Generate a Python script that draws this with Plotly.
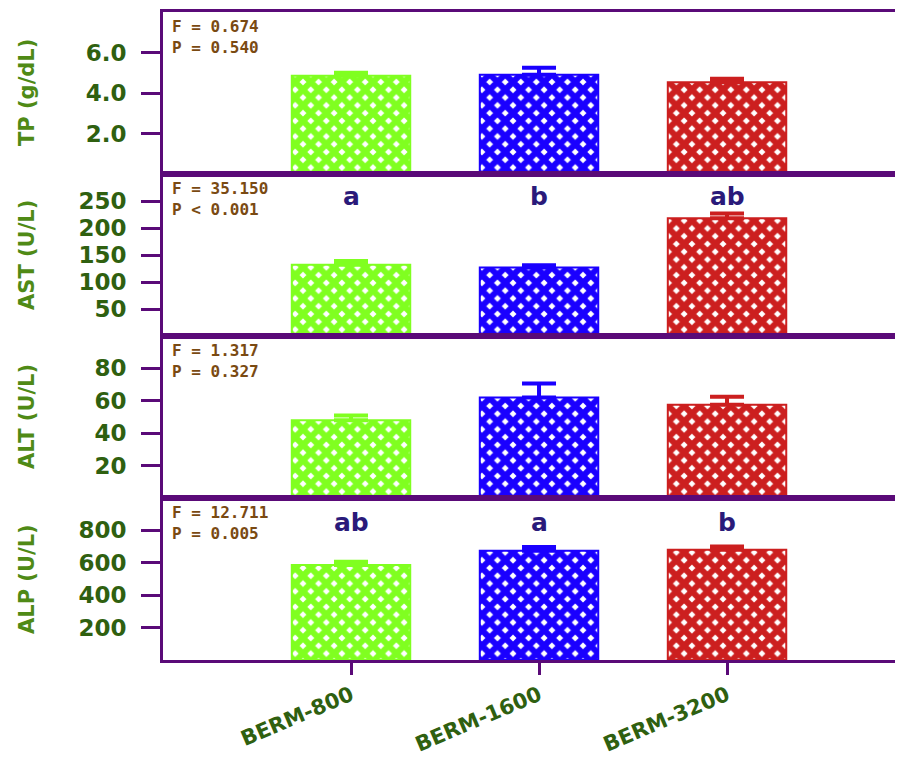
import plotly.graph_objects as go
from plotly.subplots import make_subplots

groups = ["BERM-800", "BERM-1600", "BERM-3200"]
bar_colors = ["#80ff20", "#1a00ff", "#cc1f1f"]

tp_mean = [4.85, 4.90, 4.53]
tp_err = [0.15, 0.35, 0.17]
ast_mean = [132, 127, 218]
ast_err = [7, 4, 9]
alt_mean = [48, 62, 57.5]
alt_err = [3, 8.7, 5]
alp_mean = [587, 675, 681]
alp_err = [19, 22, 19]

panel_titles = ["TP (g/dL)", "AST (U/L)", "ALT (U/L)", "ALP (U/L)"]
stats_text = ["F = 0.674<br>P = 0.540", "F = 35.150<br>P < 0.001",
              "F = 1.317<br>P = 0.327", "F = 12.711<br>P = 0.005"]
ast_letters = ["a", "b", "ab"]
alp_letters = ["ab", "a", "b"]

y_ranges = [[0, 8], [0, 300], [0, 100], [0, 1000]]
y_ticks = [[2, 4, 6], [50, 100, 150, 200, 250], [20, 40, 60, 80], [200, 400, 600, 800]]
y_ticktext = [["2.0", "4.0", "6.0"], ["50", "100", "150", "200", "250"],
              ["20", "40", "60", "80"], ["200", "400", "600", "800"]]

means = [tp_mean, ast_mean, alt_mean, alp_mean]
errs = [tp_err, ast_err, alt_err, alp_err]

fig = make_subplots(rows=4, cols=1, shared_xaxes=True, vertical_spacing=0)

purple = "#5a0a78"
tick_green = "#2f6010"
title_green = "#4f8a16"

for r in range(4):
    for i, g in enumerate(groups):
        fig.add_trace(go.Bar(
            x=[g], y=[means[r][i]],
            width=0.63,
            marker=dict(color=bar_colors[i],
                        line=dict(color=bar_colors[i], width=2),
                        pattern=dict(shape="x", fgcolor=bar_colors[i], bgcolor="white",
                                     solidity=0.8, size=11, fillmode="replace")),
            error_y=dict(type="data", array=[errs[r][i]], arrayminus=[0],
                         symmetric=False, color=bar_colors[i], thickness=4, width=17),
            showlegend=False,
        ), row=r + 1, col=1)

fig.update_layout(barmode="overlay")

for r in range(4):
    yname = "yaxis" if r == 0 else f"yaxis{r + 1}"
    xname = "xaxis" if r == 0 else f"xaxis{r + 1}"
    fig.layout[yname].update(
        range=y_ranges[r], tickvals=y_ticks[r], ticktext=y_ticktext[r],
        showgrid=False, zeroline=False, showline=True, linecolor=purple, linewidth=3,
        ticks="outside", ticklen=19, tickwidth=3, tickcolor=purple,
        ticklabelstandoff=10, automargin=False,
        tickfont=dict(family="DejaVu Sans", size=23, color=tick_green, weight="bold"),
        fixedrange=True,
    )
    fig.layout[xname].update(
        range=[-1, 2.936], showgrid=False, zeroline=False, showline=True,
        linecolor=purple, linewidth=3, mirror=True,
        ticks="outside" if r == 3 else "", ticklen=12, tickwidth=3, tickcolor=purple,
        showticklabels=(r == 3),
        tickangle=-23,
        ticklabelstandoff=0, automargin=False,
        tickfont=dict(family="DejaVu Sans", size=21, color=tick_green, weight="bold"),
    )
    yref_dom = "y domain" if r == 0 else f"y{r + 1} domain"
    xref_dom = "x domain" if r == 0 else f"x{r + 1} domain"
    fig.add_annotation(text=panel_titles[r], xref="paper", x=0, xshift=-136,
                       yref=yref_dom, y=0.5, textangle=-90, showarrow=False,
                       xanchor="center", yanchor="middle",
                       font=dict(family="DejaVu Sans", size=21, color=title_green, weight="bold"))
    fig.add_annotation(text=stats_text[r], xref=xref_dom, x=0, xshift=7,
                       yref=yref_dom, y=1, yshift=-3, showarrow=False, align="left",
                       xanchor="left", yanchor="top",
                       font=dict(family="DejaVu Sans Mono", size=16, color="#7a4a12", weight="bold"))

for i, g in enumerate(groups):
    fig.add_annotation(text=ast_letters[i], x=g, y=258, xref="x2", yref="y2",
                       showarrow=False,
                       font=dict(family="DejaVu Sans", size=25, color="#2a1a7a", weight="bold"))
    fig.add_annotation(text=alp_letters[i], x=g, y=850, xref="x4", yref="y4",
                       showarrow=False,
                       font=dict(family="DejaVu Sans", size=25, color="#2a1a7a", weight="bold"))

fig.update_layout(
    width=895, height=753,
    margin=dict(l=155, r=0, t=4, b=101, autoexpand=False),
    plot_bgcolor="white", paper_bgcolor="white",
    showlegend=False,
)

fig.write_html("out.html")
